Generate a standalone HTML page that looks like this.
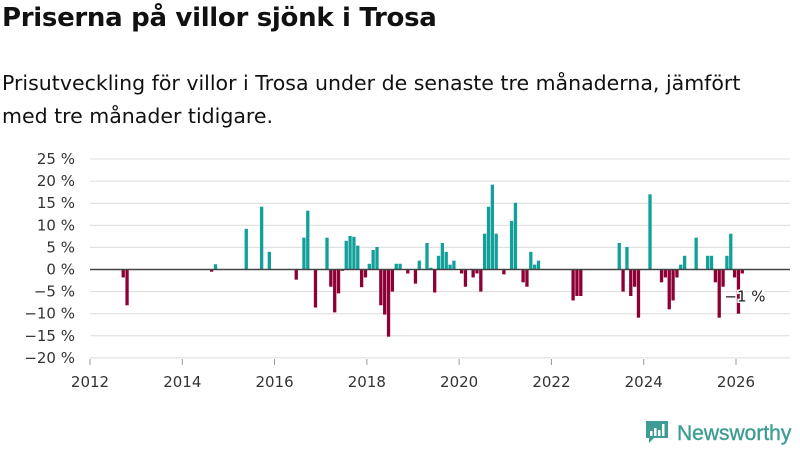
<!DOCTYPE html>
<html><head><meta charset="utf-8">
<style>
html,body{margin:0;padding:0;background:#fff;width:800px;height:450px;overflow:hidden;font-family:"DejaVu Sans","Liberation Sans",sans-serif;color:#111}
#title{position:absolute;left:2px;top:3px;font-size:26px;font-weight:bold;margin:0;letter-spacing:-0.3px}
#sub{position:absolute;left:2px;top:67px;font-size:20.5px;line-height:33px;width:765px;margin:0}
svg{position:absolute;left:0;top:0}
</style></head><body>
<h1 id="title">Priserna på villor sjönk i Trosa</h1>
<p id="sub">Prisutveckling för villor i Trosa under de senaste tre månaderna, jämfört med tre månader tidigare.</p>
<svg id="chart" width="800" height="450"></svg>
<script>
const yTicks=[25,20,15,10,5,0,-5,-10,-15,-20];
const yTickLabels=["25 %","20 %","15 %","10 %","5 %","0 %","−5 %","−10 %","−15 %","−20 %"];
const xTickYears=[2012,2014,2016,2018,2020,2022,2024,2026];
const startYear=2012;
const values=[
0,0,0,0,0,0,0,0,-1.8,-8.1,0,0,
0,0,0,0,0,0,0,0,0,0,0,0,
0,0,0,0,0,0,0,-0.5,1.2,0,0,0,
0,0,0,0,9.2,0,0,0,14.2,0,4,0,
0,0,0,0,0,-2.3,0,7.2,13.3,0,-8.6,0,
0,7.2,-3.9,-9.7,-5.4,-0.3,6.5,7.6,7.4,5.4,-4,-1.8,
1.3,4.4,5.1,-8.1,-10.2,-15.2,-5,1.3,1.3,0,-0.9,0,
-3.2,2,0,6,0.4,-5.2,3.1,6,4,1.1,2,0,
-0.9,-3.9,0,-1.8,-0.9,-5,8.1,14.2,19.2,8.1,0,-1.1,
0,11,15.1,0,-2.9,-3.9,4,1.1,2,0,0,0,
0,0,0,0,0,-7,-6,-6,0,0,0,0,
0,0,0,0,0,6,-5,5.1,-6,-3.9,-10.9,0,
0,17,0,0,-2.9,-1.8,-9,-7,-1.8,1.1,3.1,0,
0,7.2,0,0,3.1,3.1,-2.9,-10.9,-3.9,3.1,8.1,-1.8,
-10,-0.9
];
const lastLabel="−1 %";
const NS="http://www.w3.org/2000/svg";
const svg=document.getElementById('chart');
function el(t,a,p){const e=document.createElementNS(NS,t);for(const k in a)e.setAttribute(k,a[k]);(p||svg).appendChild(e);return e;}
const x0=90,x1=736,y0=269.5,pxPer=22.1/5;
function xM(m){return x0+m*(x1-x0)/168;}
function xY(y){return xM((y-startYear)*12);}
function yV(v){return y0-v*pxPer;}
yTicks.forEach((t,i)=>{
  const g=el('line',{x1:x0,x2:790,y1:yV(t),y2:yV(t),stroke:'#dcdcdc','stroke-width':1});
  
  
  const tx=el('text',{x:75,y:yV(t)+5,'text-anchor':'end','font-size':15,fill:'#333'});
  tx.textContent=yTickLabels[i];
  
  
});
xTickYears.forEach(yr=>{
  const x=xY(yr);
  const tk=el('line',{x1:x,x2:x,y1:359,y2:365,stroke:'#999'});
  
  
  const tx=el('text',{x:x,y:387,'text-anchor':'middle','font-size':15,fill:'#333'});
  tx.textContent=yr;
  
  
});
values.forEach((v,m)=>{
  if(!v)return;
  const y=Math.min(yV(v),y0),h=Math.abs(yV(v)-y0);
  const r=el('rect',{x:xM(m)+0.8,y:y,width:3.3,height:h,fill:v>0?'#12a09a':'#8c0036'});
  
  
});
const zl=el('line',{x1:x0,x2:790,y1:y0,y2:y0,stroke:'#444','stroke-width':1.5});


const lastV=values[values.length-1];
const lb=el('text',{x:745,y:yV(lastV)+28,'text-anchor':'middle','font-size':15,fill:'#222',stroke:'#fff','stroke-width':3,'paint-order':'stroke'});
lb.textContent=lastLabel;


const lg=el('g',{});


el('path',{d:'M646 421h22v17h-14l-5 5v-5h-3z',fill:'#3f9c94'},lg);
el('rect',{x:650,y:431,width:2.5,height:5,fill:'#fff'},lg);
el('rect',{x:654,y:428,width:2.5,height:8,fill:'#fff'},lg);
el('rect',{x:658,y:430,width:2.5,height:6,fill:'#fff'},lg);
el('rect',{x:662,y:424,width:2.5,height:12,fill:'#fff'},lg);
const lt=el('text',{x:677,y:440,'font-size':21,fill:'#3f9c94','font-family':'Liberation Sans, sans-serif','stroke':'#3f9c94','stroke-width':0.4},lg);
lt.textContent='Newsworthy';
</script>
</body></html>
